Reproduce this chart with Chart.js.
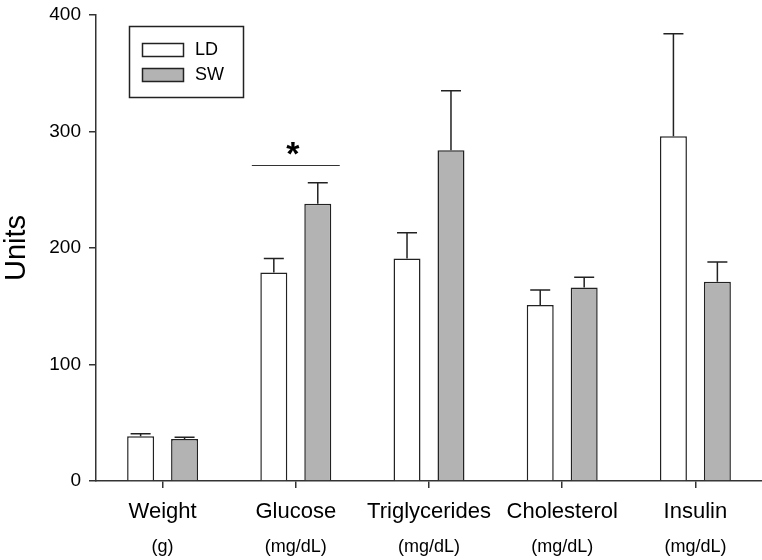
<!DOCTYPE html>
<html>
<head>
<meta charset="utf-8">
<script src="https://cdn.jsdelivr.net/npm/chart.js@4.4.0/dist/chart.umd.min.js"></script>
<style>
  html, body { margin: 0; padding: 0; background: #fff; }
  #wrap { width: 762px; height: 560px; position: relative; }
</style>
</head>
<body>
<div id="wrap"><canvas id="chart"></canvas></div>
<script>
// data
var categories = ['Weight', 'Glucose', 'Triglycerides', 'Cholesterol', 'Insulin'];
var units = ['(g)', '(mg/dL)', '(mg/dL)', '(mg/dL)', '(mg/dL)'];
var ldValues = [38.5, 179, 191, 151, 296];
var ldErrors = [2, 12, 22, 13, 88];
var swValues = [36, 238, 284, 166, 171];
var swErrors = [1.5, 18, 51, 9, 17];
var yTicks = [0, 100, 200, 300, 400];
// significance marker: category index and height of the bracket line
var sigCategory = 1;
var sigValue = 271;

var FONT = '"Liberation Sans", Arial, sans-serif';
var AXIS = '#333333';

// error bars (upper whisker only) drawn from the error arrays
var errorBars = {
  id: 'errorBars',
  afterDatasetsDraw: function(chart) {
    var ctx = chart.ctx;
    var y = chart.scales.y;
    var errs = [ldErrors, swErrors];
    ctx.save();
    ctx.strokeStyle = '#222';
    ctx.lineWidth = 1.5;
    chart.data.datasets.forEach(function(ds, di) {
      var meta = chart.getDatasetMeta(di);
      meta.data.forEach(function(bar, i) {
        var top = bar.y;
        var yErr = y.getPixelForValue(ds.data[i] + errs[di][i]);
        ctx.beginPath();
        ctx.moveTo(bar.x, top);
        ctx.lineTo(bar.x, yErr);
        ctx.moveTo(bar.x - 10, yErr);
        ctx.lineTo(bar.x + 10, yErr);
        ctx.stroke();
      });
    });
    ctx.restore();
  }
};

var extras = {
  id: 'extras',
  afterDraw: function(chart) {
    var ctx = chart.ctx;
    var x = chart.scales.x;
    var y = chart.scales.y;
    ctx.save();

    // units line under category labels
    ctx.fillStyle = '#000';
    ctx.font = '18px ' + FONT;
    ctx.textAlign = 'center';
    ctx.textBaseline = 'middle';
    units.forEach(function(u, i) {
      ctx.fillText(u, x.getPixelForValue(i), 547);
    });

    // significance bracket
    var cx = x.getPixelForValue(sigCategory);
    var half = (x.getPixelForValue(1) - x.getPixelForValue(0)) * 0.33;
    var sy = Math.round(y.getPixelForValue(sigValue)) + 0.5;
    ctx.strokeStyle = '#333';
    ctx.lineWidth = 1;
    ctx.beginPath();
    ctx.moveTo(cx - half, sy);
    ctx.lineTo(cx + half, sy);
    ctx.stroke();
    ctx.font = 'bold 34px ' + FONT;
    ctx.fillText('*', cx - 3, sy - 10);

    // legend box
    ctx.lineWidth = 1.5;
    ctx.strokeStyle = '#222';
    ctx.strokeRect(129.5, 26.5, 114, 71);
    ctx.font = '18px ' + FONT;
    ctx.textAlign = 'left';
    chart.data.datasets.forEach(function(ds, di) {
      var ty = 43.5 + di * 25;
      ctx.fillStyle = ds.backgroundColor;
      ctx.fillRect(142.5, ty, 41, 13);
      ctx.strokeRect(142.5, ty, 41, 13);
      ctx.fillStyle = '#000';
      ctx.fillText(ds.label, 195, ty + 7);
    });
    ctx.restore();
  }
};

new Chart(document.getElementById('chart'), {
  type: 'bar',
  data: {
    labels: categories,
    datasets: [
      {
        label: 'LD',
        data: ldValues,
        backgroundColor: '#ffffff',
        borderColor: '#222222',
        borderWidth: 1.5,
        categoryPercentage: 0.66,
        barPercentage: 0.614
      },
      {
        label: 'SW',
        data: swValues,
        backgroundColor: '#b3b3b3',
        borderColor: '#222222',
        borderWidth: 1.5,
        categoryPercentage: 0.66,
        barPercentage: 0.614
      }
    ]
  },
  options: {
    responsive: true,
    maintainAspectRatio: false,
    animation: false,
    layout: { padding: { top: 15, right: 0, left: 0, bottom: 0 } },
    plugins: {
      legend: { display: false },
      tooltip: { enabled: false }
    },
    scales: {
      x: {
        offset: true,
        grid: {
          offset: false,
          drawOnChartArea: false,
          drawTicks: true,
          tickLength: 7,
          color: AXIS,
          lineWidth: 1.5
        },
        border: { color: AXIS, width: 1.5 },
        ticks: {
          color: '#000',
          font: { family: FONT, size: 22 },
          padding: 11,
          maxRotation: 0,
          autoSkip: false
        },
        afterFit: function(scale) { scale.height = 79; }
      },
      y: {
        min: 0,
        max: 400,
        afterBuildTicks: function(scale) {
          scale.ticks = yTicks.map(function(v) { return { value: v }; });
        },
        grid: {
          drawOnChartArea: false,
          drawTicks: true,
          tickLength: 7,
          color: AXIS,
          lineWidth: 1.5
        },
        border: { color: AXIS, width: 1.5 },
        ticks: {
          color: '#000',
          font: { family: FONT, size: 19, lineHeight: 1 },
          padding: 8
        },
        title: {
          display: true,
          text: 'Units',
          color: '#000',
          font: { family: FONT, size: 29 },
          padding: { top: 0, bottom: 0 }
        },
        afterFit: function(scale) {
          scale.width = 96;
          scale.paddingTop = 0;
        }
      }
    }
  },
  plugins: [errorBars, extras]
});
</script>
</body>
</html>
